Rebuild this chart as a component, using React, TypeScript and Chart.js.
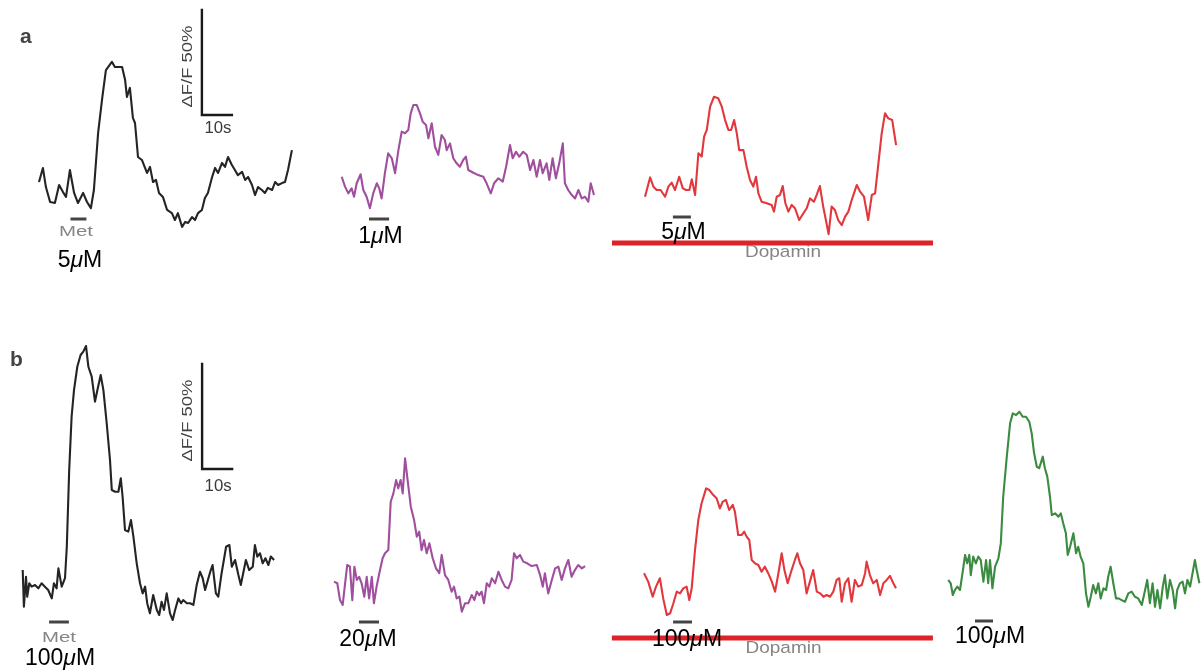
import { useEffect, useRef } from "react";
import { Chart, registerables } from "chart.js";

Chart.register(...registerables);

// Shared drawing scale for every trace: 10 s -> 30 px, 50 % ΔF/F -> 105 px
const PX_PER_SECOND = 3;
const PX_PER_PERCENT = 2.1;
const SCALE_BAR_SECONDS = 10;
const SCALE_BAR_PERCENT = 50;

// ΔF/F traces, [time (s), ΔF/F (%)]
const traceA1: [number, number][] = [
  [0, 3.8], [1.3, 10.5], [2.3, 1.4], [3.7, -5.7], [5.3, -6.2], [6.7, 2.4], [8, -1], [9, -3.3],
  [10.3, 9.5], [11.7, -1.4], [13, -6.2], [14.7, -1.4], [16, -5.7], [17.3, -8.6], [18.3, 0],
  [19.7, 27.1], [21, 42.9], [22.3, 57.1], [24.3, 61], [25.3, 58.6], [27.7, 58.6], [28.7, 52.4],
  [29.3, 44.3], [30.3, 48.6], [31.3, 34.3], [32, 31.9], [33, 15.7], [34.3, 14.3], [36, 8.1],
  [37, 11], [38, 3.8], [39, 4.8], [40, -1.4], [41.3, -3.3], [42.7, -9.5], [44.3, -11],
  [45.3, -14.3], [46.3, -11], [47.7, -17.6], [48.7, -15.2], [49.7, -15.7], [51, -12.9],
  [52, -14.3], [53, -11], [54.3, -9.5], [55.3, -3.8], [56.3, -1.4], [57.7, 6.2], [58.7, 10.5],
  [59.7, 8.1], [61, 12.9], [62, 11], [63, 15.7], [64.3, 11.9], [65.3, 9.5], [66.3, 7.1],
  [67.7, 8.6], [68.7, 4.8], [69.7, 6.2], [71, 2.4], [72, -2.4], [73, 1.4], [74.3, 0],
  [75.3, -1.4], [76.3, 1], [77.7, 0], [78.7, 3.8], [79.7, 2.4], [81, 3.3], [82, 3.8],
  [83, 9.5], [84.3, 19],
];

const traceA2: [number, number][] = [
  [0, 6.3], [1.1, 1.6], [2.2, -1.6], [3.3, 0.8], [4.1, -3.2], [5, 3.2], [6.3, 7.5], [7.2, 0],
  [8.3, -3.2], [9.4, -8.7], [10.5, -1.6], [11.7, 3.2], [12.5, 0.8], [13.3, -4], [14.4, 8],
  [15.5, 17.5], [16.7, 15.1], [17.8, 8], [18.9, 19], [20, 27.8], [21.1, 27], [22.2, 28.6],
  [23, 36.5], [23.9, 40.5], [25, 40.5], [26.1, 36.5], [27, 32.5], [28.1, 31], [28.9, 24.6],
  [30, 31.8], [31.1, 20.6], [32.2, 16.7], [33.3, 26.2], [34.4, 23.8], [35, 19], [36.1, 22.2],
  [37.2, 15.1], [38.3, 12.7], [39.4, 11.1], [40.5, 14.3], [41.4, 15.9], [42.2, 9.5],
  [43.9, 8.2], [45.5, 7.1], [47.2, 6.3], [48.3, 3.2], [49.7, -1.6], [50.8, 3.2], [52.2, 5.6],
  [53.7, 4], [54.8, 11.1], [56.1, 21.4], [57, 15.1], [58.1, 18.2], [59.2, 15.9], [60.5, 18.2],
  [61.7, 16.7], [62.8, 9.5], [63.9, 14.3], [65, 6.3], [66.1, 14.3], [67, 8], [68.3, 12.7],
  [69.2, 4.8], [70.3, 15.1], [71.4, 5.6], [72.5, 12.7], [73.7, 22.2], [74.4, 3.2], [75.5, 0],
  [76.7, -2.4], [77.8, -4], [78.9, 0], [80, -4], [81.1, -3.2], [82.2, -5.6], [83, 3.2],
  [84.1, -2.4],
];

const traceA3: [number, number][] = [
  [0, -3.2], [1.7, 6], [2.8, 1.6], [3.9, 0], [5.2, 0], [6.7, -3.2], [7.8, 1.6], [8.9, 3.5],
  [10, 0], [11.4, 6.3], [12.6, 0.8], [13.7, 0], [14.8, 0], [15.6, 5.1], [16.7, -2.4],
  [17.8, 17.5], [18.9, 15.9], [19.7, 25.4], [20.6, 28.6], [21.7, 39.7], [23, 44.4],
  [24.4, 43.7], [25.6, 39.7], [26.7, 33.3], [27.8, 28.6], [28.7, 28.6], [29.7, 33.3],
  [30.6, 27], [31.4, 19], [32.8, 19], [33.9, 11.1], [35, 4.8], [36.1, 1.6], [37, 6.3],
  [37.8, -1.6], [38.9, -5.6], [40.6, -6.3], [42.2, -7.1], [43, -10.3], [43.9, -3.2],
  [45, -2.4], [45.9, 1.9], [46.8, -6.3], [47.8, -10.3], [48.9, -7.1], [50, -8.7],
  [51.4, -14.3], [52.8, -11.1], [53.9, -8.7], [55, -4], [56.3, -5.6], [57.2, -2.4],
  [58.3, 1.9], [59.4, -7.9], [60.3, -14.3], [61.2, -21], [62.2, -7.9], [63.3, -9.5],
  [64.4, -14.3], [65.6, -16.7], [66.7, -12.7], [67.8, -10.3], [68.9, -4.8], [70.6, 2.4],
  [71.7, -0.8], [73, -3.2], [74.4, -14.3], [75.6, -2.4], [76.7, -1.6], [77.8, 12.7],
  [78.9, 27], [80, 36.5], [81.1, 34.1], [82.4, 33.3], [83.7, 21.4],
];

const traceB1: [number, number][] = [
  [0, 9.5], [0.4, -8], [1.1, 6.3], [1.5, -3.2], [2.2, 3.2], [3, 1.6], [4.1, 2.4], [5.2, 0.8],
  [6.3, 3.2], [7.4, 1.6], [8.5, 0], [9.7, -4], [10.4, 3.2], [11.3, 0.8], [11.9, 10.3],
  [13, 1.6], [14.1, 5.6], [14.7, 20.6], [15.5, 57.1], [16.3, 82.5], [17.1, 95.2],
  [18.2, 106.3], [19.3, 111.9], [20.2, 113.5], [21.1, 116.2], [21.9, 106.3], [23, 101.6],
  [24.1, 89.7], [24.9, 95.2], [26, 102.4], [26.9, 95.2], [28, 79.4], [29.1, 61.9],
  [29.7, 47.6], [30.8, 46.8], [31.9, 46.8], [32.7, 53.2], [33.3, 44.4], [34.1, 28.6],
  [35.2, 27.8], [36.1, 33.3], [36.9, 25.4], [38, 12.7], [39.1, 3.2], [40, -1.6], [40.8, 1.6],
  [41.5, -6.3], [42.4, -11.1], [43.5, -2.4], [44.7, -9.5], [45.5, -11.9], [46.3, -5.6],
  [47.1, -9.5], [48, -1.6], [49.1, -11.1], [50, -14.3], [50.8, -9.5], [51.9, -4], [52.8, -6.3],
  [53.5, -4.8], [54.7, -6.3], [55.8, -6.3], [56.9, -7.1], [58, 2.4], [59.1, 8.7], [60, 5.6],
  [60.8, 0], [61.9, 5.6], [62.7, 9.5], [63.3, 11.9], [64.4, -1.6], [65.2, -3.2], [66.3, 8],
  [67.8, 20.6], [68.9, 21.4], [69.7, 11.1], [70.8, 14.3], [71.9, 7.1], [72.7, 2.4], [73.5, 8],
  [74.4, 14.3], [75.5, 9.5], [76.7, 11.1], [77.4, 21.4], [78.2, 15.9], [79.1, 17.5],
  [80, 12.7], [80.9, 15.1], [81.9, 11.9], [82.7, 15.9], [83.8, 14.3],
];

const traceB2: [number, number][] = [
  [0, 4], [1.1, 3.2], [2, -4.8], [2.9, -7.1], [3.7, 3.2], [4.4, 11.9], [5.3, 11.1], [6.1, -4.8],
  [6.8, 11.1], [7.6, 4.8], [8.4, 6.3], [9.2, 3.2], [10.1, -3.2], [10.9, 6.3], [11.7, -4],
  [12.6, 6.3], [13.3, -6.3], [14.2, 1.6], [15.1, 8], [16.2, 15.1], [17, 17.5], [18.1, 19],
  [18.9, 42], [19.8, 46], [20.7, 52.4], [21.4, 48.4], [22.2, 52.4], [22.9, 46], [23.7, 62.7],
  [24.4, 54], [25.6, 39.7], [26.7, 33.3], [27.6, 25.4], [28.4, 27.8], [29.2, 19], [30, 23.8],
  [30.9, 17.5], [31.8, 22.2], [32.9, 15.1], [34, 10.3], [35.1, 8], [35.9, 16.7], [37, 7.1],
  [38.1, 4.8], [39.2, -0.8], [40, 1.6], [40.9, -4], [41.8, -3.2], [42.6, -10.3], [43.7, -6.3],
  [44.8, -6.3], [45.9, -2.4], [46.8, -4.8], [47.6, -0.8], [48.4, -2.4], [49.2, -0.8],
  [50, -6.3], [50.9, 3.2], [51.8, 1.6], [52.6, 5.6], [53.7, 3.2], [54.8, 8.7], [55.9, 4.8],
  [57, 1.6], [58.1, 0.8], [59.2, 4.8], [60, 17.5], [60.9, 15.1], [62, 16.7], [63.1, 13.5],
  [64.4, 12.7], [65.9, 11.4], [67.6, 11.9], [68.7, 7.1], [69.6, 1.6], [70.3, 8], [71.4, -1.6],
  [72.6, 4.8], [73.7, 10.3], [74.8, 11.1], [75.9, 4.8], [77, 10.3], [78.1, 14.3], [79.2, 6.3],
  [80.3, 9.5], [81.4, 11.9], [82.6, 10.3], [83.7, 11.4],
];

const traceB3: [number, number][] = [
  [0, 8], [1.4, 4], [2.9, -3.2], [4, 1.6], [5.3, 5.6], [6.4, -4], [7.6, -11.9], [8.7, -11.1],
  [9.8, -6.3], [10.9, -0.8], [12, -1.6], [13.1, 0.8], [14.2, 1.6], [15.1, -4.8], [15.9, 0.8],
  [17, 19], [18.1, 33.3], [19.2, 41.3], [20.7, 48.4], [21.8, 47.6], [23.1, 45.2], [24.2, 43.7],
  [25.3, 38.9], [26.2, 42], [27.3, 42.9], [28.4, 38.1], [29.6, 40.5], [30.3, 37.3],
  [31.4, 26.2], [32.6, 26.2], [33.4, 27.8], [34.2, 25.4], [35.1, 23.8], [35.9, 14.3],
  [37, 12.7], [38.1, 11.9], [39.2, 8.7], [40.3, 11.1], [41.4, 8], [42.6, 4], [43.7, -0.8],
  [44.8, 8], [45.9, 17.5], [46.8, 9.5], [47.9, 3.2], [49.2, 9.5], [50.3, 14.3], [51.1, 17.5],
  [52, 12.7], [53.1, 9.5], [54.2, -1.6], [55.3, 4], [56.4, 9.5], [57.6, -0.8], [58.7, -1.6],
  [59.8, -3.2], [60.9, -2.4], [62, -3.2], [63.1, -0.8], [64.2, 4.8], [65.1, 5.6], [65.9, -5.6],
  [67, 3.2], [68.1, 5.6], [69.2, -5.6], [70.3, 4.8], [71.4, 1.6], [72.6, 2.4], [73.7, 8],
  [74.2, 13.5], [75.3, 7.1], [76.4, 3.2], [77.6, 4.8], [78.7, -2.4], [79.8, 3.2], [80.9, 4.8],
  [82, 6.7], [83.1, 3.2], [84, 0.8],
];

const traceB4: [number, number][] = [
  [0, 4.8], [0.8, 3.2], [1.5, -2.4], [2.2, 0], [3, 1.6], [3.9, 0], [4.8, 8.7], [5.6, 16.7],
  [6.3, 12.7], [7, 16.7], [7.5, 7.1], [8.3, 15.9], [9.2, 12.7], [10, 15.9], [10.8, 14.3],
  [11.7, 4], [12.6, 14.3], [13.3, 3.2], [13.9, 14.3], [14.7, 0.8], [15.6, 11.1], [16.7, 15.1],
  [17.5, 22.2], [18.3, 44.4], [19.5, 63.5], [20.6, 79.4], [21.5, 84.1], [22.6, 83.3],
  [23.7, 84.9], [24.8, 82.5], [25.9, 82.5], [27, 80.1], [27.8, 74.6], [28.6, 65.1],
  [29.5, 58.7], [30.3, 58], [31.5, 63.5], [32.2, 58], [33, 54], [33.9, 44.4], [34.5, 35.7],
  [35.6, 36.5], [36.7, 34.9], [37.5, 36.5], [38.3, 31.8], [39.2, 27], [39.8, 16.7],
  [40.6, 20.6], [41.7, 27], [42.6, 17.5], [43.3, 20.6], [44.1, 15.9], [45, 12.7], [45.9, -1.6],
  [46.7, -8], [47.5, -3.2], [48.3, 2.4], [49.2, -1.6], [50, 3.2], [50.8, -4], [51.7, 0.8],
  [52.6, 0], [53.3, 6.3], [54.1, 11.1], [55, 3.2], [55.9, -4], [56.7, -4], [57.8, -4.8],
  [58.9, -5.6], [60, -1.6], [61.1, -0.8], [62.2, -3.2], [63.3, -4], [64.5, -7.1], [65.6, 0],
  [66.3, 4.8], [67.2, -6.3], [68.1, 3.2], [68.9, -8], [69.7, 0], [70.6, -8.7], [71.5, 1.6],
  [72.2, 7.1], [73, -4], [73.9, 4.8], [74.8, 0], [75.6, -8.7], [76.3, 0], [77.2, 3.2],
  [78.1, 4], [78.9, -1.6], [79.7, 4.8], [80.6, 1.6], [81.5, 8.7], [82.2, 14.3], [82.8, 9.5],
  [83.7, 3.2],
];

// Metoclopramide application windows (s) and doses (µM)
const metWindows: [number, number][] = [
  [10.5, 15.8], [9.1, 15.8], [9.3, 15.3],
  [8.8, 15.4], [8.3, 15], [9.7, 16], [8.9, 14.9],
];
const metDoses = ["5", "1", "5", "100", "20", "100", "100"];

// Dopamine perfusion windows (s), for the third trace of each row
const dopaminA: [number, number] = [-11, 96];
const dopaminB: [number, number] = [-10.7, 96.3];

const BLACK = "#242424";
const PURPLE = "#a04f9f";
const RED = "#e2383d";
const GREEN = "#3b8b41";
const DOPAMIN_RED = "#dd2228";
const STIM_GRAY = "#444444";

const SANS = '"Liberation Sans", Arial, Helvetica, sans-serif';

type Panel = {
  data: [number, number][];
  color: string;
  met: [number, number];
  dose: string;
  left: number;
  top: number;
  width: number;
  height: number;
  originX: number;
  originY: number;
  metY: number;
  doseX: number;
  doseY: number;
  metLabel?: { x: number; y: number };
  letter?: { text: string; x: number; y: number };
  scaleBar?: { t: number; v: number; labelDy: number; secDy: number };
  dopamin?: { range: [number, number]; y: number; textX: number; textY: number };
};

const panels: Panel[] = [
  {
    data: traceA1, color: BLACK, met: metWindows[0], dose: metDoses[0],
    left: 0, top: 0, width: 320, height: 290, originX: 39, originY: 190,
    metY: 219, doseX: 80, doseY: 267,
    metLabel: { x: 76, y: 236 },
    letter: { text: "a", x: 20, y: 43 },
    scaleBar: { t: 54.3, v: 35.7, labelDy: 4, secDy: 18 },
  },
  {
    data: traceA2, color: PURPLE, met: metWindows[1], dose: metDoses[1],
    left: 320, top: 80, width: 290, height: 200, originX: 341.7, originY: 190,
    metY: 219, doseX: 380.5, doseY: 243,
  },
  {
    data: traceA3, color: RED, met: metWindows[2], dose: metDoses[2],
    left: 600, top: 80, width: 360, height: 200, originX: 645, originY: 190,
    metY: 217, doseX: 683.5, doseY: 239,
    dopamin: { range: dopaminA, y: 243, textX: 783, textY: 257 },
  },
  {
    data: traceB1, color: BLACK, met: metWindows[3], dose: metDoses[3],
    left: 0, top: 330, width: 320, height: 340, originX: 22.7, originY: 590,
    metY: 622, doseX: 60, doseY: 665,
    metLabel: { x: 59, y: 642 },
    letter: { text: "b", x: 10, y: 366 },
    scaleBar: { t: 59.8, v: 57.6, labelDy: 4, secDy: 22 },
  },
  {
    data: traceB2, color: PURPLE, met: metWindows[4], dose: metDoses[4],
    left: 320, top: 430, width: 290, height: 240, originX: 334, originY: 590,
    metY: 622, doseX: 368, doseY: 646,
  },
  {
    data: traceB3, color: RED, met: metWindows[5], dose: metDoses[5],
    left: 600, top: 460, width: 360, height: 210, originX: 644, originY: 590,
    metY: 622, doseX: 687, doseY: 646,
    dopamin: { range: dopaminB, y: 638, textX: 783.5, textY: 653 },
  },
  {
    data: traceB4, color: GREEN, met: metWindows[6], dose: metDoses[6],
    left: 930, top: 380, width: 271, height: 290, originX: 948.3, originY: 590,
    metY: 621, doseX: 990, doseY: 643,
  },
];

// Text squeezed or stretched horizontally to a given width
function drawFitText(
  ctx: CanvasRenderingContext2D, text: string, cx: number, baseline: number,
  font: string, width: number, color: string, blur = 0.6, rotate = 0,
) {
  ctx.save();
  ctx.font = font;
  ctx.fillStyle = color;
  ctx.textBaseline = "alphabetic";
  ctx.textAlign = "center";
  if (blur > 0) ctx.filter = `blur(${blur}px)`;
  const w = ctx.measureText(text).width;
  ctx.translate(cx, baseline);
  if (rotate) ctx.rotate(rotate);
  ctx.scale(width / w, 1);
  ctx.fillText(text, 0, 0);
  ctx.restore();
}

// "<dose>µM" with an italic µ, centred on cx
function drawDose(ctx: CanvasRenderingContext2D, dose: string, cx: number, baseline: number) {
  const upright = `23px ${SANS}`;
  const italic = `italic 23px ${SANS}`;
  const parts: [string, string][] = [[dose, upright], ["\u03bc", italic], ["M", upright]];
  ctx.save();
  ctx.fillStyle = "#000";
  ctx.textBaseline = "alphabetic";
  ctx.textAlign = "left";
  let total = 0;
  const widths = parts.map(([s, f]) => {
    ctx.font = f;
    const w = ctx.measureText(s).width;
    total += w;
    return w;
  });
  let x = cx - total / 2;
  parts.forEach(([s, f], i) => {
    ctx.font = f;
    ctx.fillText(s, x, baseline);
    x += widths[i];
  });
  ctx.restore();
}

function makeAnnotator(p: Panel) {
  return {
    id: "traceAnnotations",
    afterDatasetsDraw(chart: Chart) {
      const ctx = chart.ctx;
      const xs = chart.scales.x;
      const ys = chart.scales.y;
      const px = (x: number) => x - p.left;
      const py = (y: number) => y - p.top;

      ctx.save();
      ctx.lineCap = "butt";

      if (p.dopamin) {
        ctx.save();
        ctx.filter = "blur(0.5px)";
        ctx.strokeStyle = DOPAMIN_RED;
        ctx.lineWidth = 5;
        ctx.beginPath();
        ctx.moveTo(xs.getPixelForValue(p.dopamin.range[0]), py(p.dopamin.y));
        ctx.lineTo(xs.getPixelForValue(p.dopamin.range[1]), py(p.dopamin.y));
        ctx.stroke();
        ctx.restore();
        drawFitText(ctx, "Dopamin", px(p.dopamin.textX), py(p.dopamin.textY),
          `17px ${SANS}`, 76, "#858585", 0.7);
      }

      // Met application bar
      ctx.strokeStyle = STIM_GRAY;
      ctx.lineWidth = 3;
      ctx.beginPath();
      ctx.moveTo(xs.getPixelForValue(p.met[0]), py(p.metY));
      ctx.lineTo(xs.getPixelForValue(p.met[1]), py(p.metY));
      ctx.stroke();

      if (p.metLabel) {
        drawFitText(ctx, "Met", px(p.metLabel.x), py(p.metLabel.y),
          `14px ${SANS}`, 34, "#858585", 0.7);
      }

      drawDose(ctx, p.dose, px(p.doseX), py(p.doseY));

      if (p.letter) {
        ctx.save();
        ctx.filter = "blur(0.5px)";
        ctx.font = `bold 21px ${SANS}`;
        ctx.fillStyle = "#444";
        ctx.textAlign = "left";
        ctx.textBaseline = "alphabetic";
        ctx.fillText(p.letter.text, px(p.letter.x), py(p.letter.y));
        ctx.restore();
      }

      if (p.scaleBar) {
        const sb = p.scaleBar;
        const x0 = xs.getPixelForValue(sb.t);
        const x1 = xs.getPixelForValue(sb.t + SCALE_BAR_SECONDS);
        const y0 = ys.getPixelForValue(sb.v);
        const y1 = ys.getPixelForValue(sb.v + SCALE_BAR_PERCENT);
        ctx.save();
        ctx.filter = "blur(0.4px)";
        ctx.strokeStyle = "#1a1a1a";
        ctx.lineWidth = 2.4;
        ctx.lineCap = "square";
        ctx.beginPath();
        ctx.moveTo(x0, y1);
        ctx.lineTo(x0, y0);
        ctx.lineTo(x1, y0);
        ctx.stroke();
        ctx.restore();
        drawFitText(ctx, "\u0394F/F 50%", x0 - 10, (y0 + y1) / 2 + sb.labelDy,
          `15px ${SANS}`, 82, "#444444", 0.6, -Math.PI / 2);
        drawFitText(ctx, "10s", (x0 + x1) / 2 + 1, y0 + sb.secDy,
          `16px ${SANS}`, 27, "#3a3a3a", 0.6);
      }
      ctx.restore();
    },
  };
}

export default function App() {
  const refs = useRef<(HTMLCanvasElement | null)[]>([]);

  useEffect(() => {
    const charts = panels.map((p, i) => {
      const canvas = refs.current[i] as HTMLCanvasElement;
      return new Chart(canvas, {
        type: "line",
        data: {
          datasets: [
            {
              data: p.data.map(([t, v]) => ({ x: t, y: v })),
              borderColor: p.color,
              borderWidth: 2.1,
              pointRadius: 0,
              tension: 0,
              fill: false,
              borderJoinStyle: "round",
            },
          ],
        },
        options: {
          animation: false,
          responsive: false,
          devicePixelRatio: 1,
          events: [],
          layout: { padding: 0 },
          plugins: { legend: { display: false }, tooltip: { enabled: false } },
          scales: {
            x: {
              type: "linear",
              display: false,
              min: (p.left - p.originX) / PX_PER_SECOND,
              max: (p.left + p.width - p.originX) / PX_PER_SECOND,
            },
            y: {
              type: "linear",
              display: false,
              max: (p.originY - p.top) / PX_PER_PERCENT,
              min: (p.originY - p.top - p.height) / PX_PER_PERCENT,
            },
          },
        },
        plugins: [makeAnnotator(p)],
      });
    });
    return () => charts.forEach((c) => c.destroy());
  }, []);

  return (
    <div
      style={{
        position: "absolute",
        left: 0,
        top: 0,
        width: 1201,
        height: 670,
        background: "#fff",
        overflow: "hidden",
      }}
    >
      {panels.map((p, i) => (
        <canvas
          key={i}
          ref={(el) => {
            refs.current[i] = el;
          }}
          width={p.width}
          height={p.height}
          style={{ position: "absolute", left: p.left, top: p.top, width: p.width, height: p.height }}
        />
      ))}
    </div>
  );
}
